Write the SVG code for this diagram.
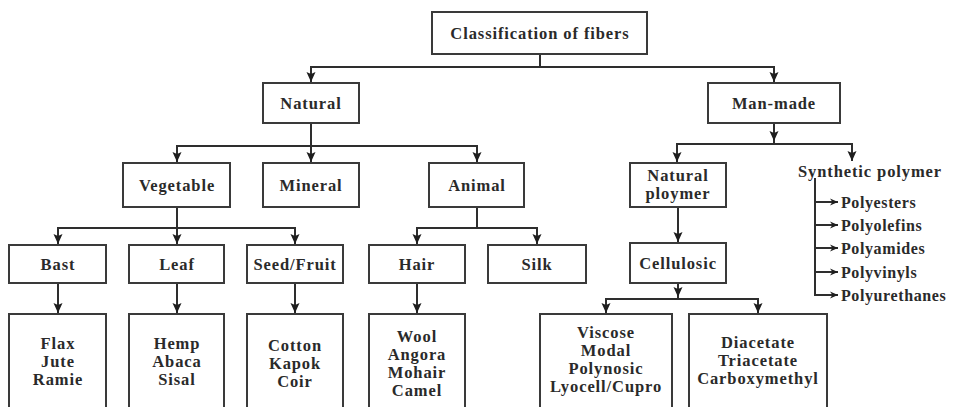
<svg xmlns="http://www.w3.org/2000/svg" width="953" height="407" viewBox="0 0 953 407">
<style>
.box{fill:#fff;stroke:#3a3a3a;stroke-width:2}
text{font-family:'Liberation Serif','Times New Roman',serif;font-weight:bold;fill:#2a2a2a}
.t{font-size:16.5px;letter-spacing:0.9px;text-anchor:middle}
.s{font-size:16px;letter-spacing:0.6px}
.c{fill:none;stroke:#2e2e2e;stroke-width:2}
.a{marker-end:url(#ah)}
.b{marker-end:url(#sh)}
</style>
<defs>
<marker id="ah" viewBox="0 0 10 10" refX="10" refY="5" markerWidth="10" markerHeight="10" markerUnits="userSpaceOnUse" orient="auto">
<path d="M0,0.5 L10,5 L0,9.5 L2,5 z" fill="#1e1e1e"/>
</marker>
<marker id="sh" viewBox="0 0 10 10" refX="10" refY="5" markerWidth="11" markerHeight="8" markerUnits="userSpaceOnUse" orient="auto">
<path d="M0,0.5 L10,5 L0,9.5 L3,5 z" fill="#1e1e1e"/>
</marker>
</defs>
<rect width="953" height="407" fill="#fff"/>
<g id="connectors">
<path class="c a" d="M540,54 V67 H311 V82"/>
<path class="c a" d="M540,67 H774 V82"/>
<path class="c a" d="M311,123 V146 H177 V162"/>
<path class="c a" d="M311,146 V162"/>
<path class="c a" d="M311,146 H477 V162"/>
<path class="c a" d="M177,207 V228 H58 V244"/>
<path class="c a" d="M177,228 V244"/>
<path class="c a" d="M177,228 H295 V244"/>
<path class="c a" d="M477,207 V228 H417 V244"/>
<path class="c a" d="M477,228 H537 V244"/>
<path class="c a" d="M58,283 V313"/>
<path class="c a" d="M177,283 V313"/>
<path class="c a" d="M295,283 V313"/>
<path class="c a" d="M417,283 V313"/>
<path class="c a" d="M774,123 V141"/>
<path class="c a" d="M774,140 V144 H677 V162"/>
<path class="c a" d="M774,144 H852 V161"/>
<path class="c a" d="M678,207 V242"/>
<path class="c a" d="M678,283 V297"/>
<path class="c a" d="M678,296 V299 H606 V313"/>
<path class="c a" d="M678,299 H758 V313"/>
<path class="c" d="M815,178 V295"/>
<path class="c b" d="M815,202 H838"/>
<path class="c b" d="M815,225 H838"/>
<path class="c b" d="M815,248 H838"/>
<path class="c b" d="M815,272 H838"/>
<path class="c b" d="M814,295 H838"/>
</g>
<g id="classification"><rect class="box" x="432" y="12" width="215" height="42"/><text class="t" x="540" y="39">Classification of fibers</text></g>
<g id="natural"><rect class="box" x="263" y="83" width="96" height="40"/><text class="t" x="311" y="109">Natural</text></g>
<g id="manmade"><rect class="box" x="708" y="83" width="132" height="40"/><text class="t" x="774" y="109">Man-made</text></g>
<g id="vegetable"><rect class="box" x="123" y="163" width="107" height="44"/><text class="t" x="177" y="191">Vegetable</text></g>
<g id="mineral"><rect class="box" x="263" y="163" width="96" height="44"/><text class="t" x="311" y="191">Mineral</text></g>
<g id="animal"><rect class="box" x="429" y="163" width="95" height="44"/><text class="t" x="477" y="191">Animal</text></g>
<g id="bast"><rect class="box" x="9" y="245" width="97" height="38"/><text class="t" x="58" y="270">Bast</text></g>
<g id="leaf"><rect class="box" x="129" y="245" width="95" height="38"/><text class="t" x="177" y="270">Leaf</text></g>
<g id="seed"><rect class="box" x="247" y="245" width="96" height="38"/><text class="t" x="295" y="270">Seed/Fruit</text></g>
<g id="hair"><rect class="box" x="369" y="245" width="96" height="38"/><text class="t" x="417" y="270">Hair</text></g>
<g id="silk"><rect class="box" x="488" y="245" width="98" height="38"/><text class="t" x="537" y="270">Silk</text></g>
<g id="bast-list"><rect class="box" x="9" y="314" width="97" height="110"/><text class="t" x="58" y="349">Flax</text><text class="t" x="58" y="367">Jute</text><text class="t" x="58" y="385">Ramie</text></g>
<g id="leaf-list"><rect class="box" x="129" y="314" width="95" height="110"/><text class="t" x="177" y="349">Hemp</text><text class="t" x="177" y="367">Abaca</text><text class="t" x="177" y="385">Sisal</text></g>
<g id="seed-list"><rect class="box" x="247" y="314" width="96" height="110"/><text class="t" x="295" y="351">Cotton</text><text class="t" x="295" y="369">Kapok</text><text class="t" x="295" y="387">Coir</text></g>
<g id="hair-list"><rect class="box" x="369" y="314" width="96" height="110"/><text class="t" x="417" y="342">Wool</text><text class="t" x="417" y="360">Angora</text><text class="t" x="417" y="378">Mohair</text><text class="t" x="417" y="396">Camel</text></g>
<g id="natural-polymer"><rect class="box" x="630" y="163" width="96" height="44"/><text class="t" x="678" y="181">Natural</text><text class="t" x="678" y="199">ploymer</text></g>
<g id="cellulosic"><rect class="box" x="630" y="243" width="96" height="40"/><text class="t" x="678" y="269">Cellulosic</text></g>
<g id="viscose-list"><rect class="box" x="540" y="314" width="132" height="110"/><text class="t" x="606" y="338">Viscose</text><text class="t" x="606" y="356">Modal</text><text class="t" x="606" y="374">Polynosic</text><text class="t" x="606" y="392">Lyocell/Cupro</text></g>
<g id="acetate-list"><rect class="box" x="689" y="314" width="138" height="110"/><text class="t" x="758" y="348">Diacetate</text><text class="t" x="758" y="366">Triacetate</text><text class="t" x="758" y="384">Carboxymethyl</text></g>
<g id="synthetic"><text class="t" x="870" y="177">Synthetic polymer</text></g>
<g id="synthetic-list"><text class="s" x="841" y="208">Polyesters</text><text class="s" x="841" y="231">Polyolefins</text><text class="s" x="841" y="254">Polyamides</text><text class="s" x="841" y="278">Polyvinyls</text><text class="s" x="841" y="301">Polyurethanes</text></g>
</svg>
